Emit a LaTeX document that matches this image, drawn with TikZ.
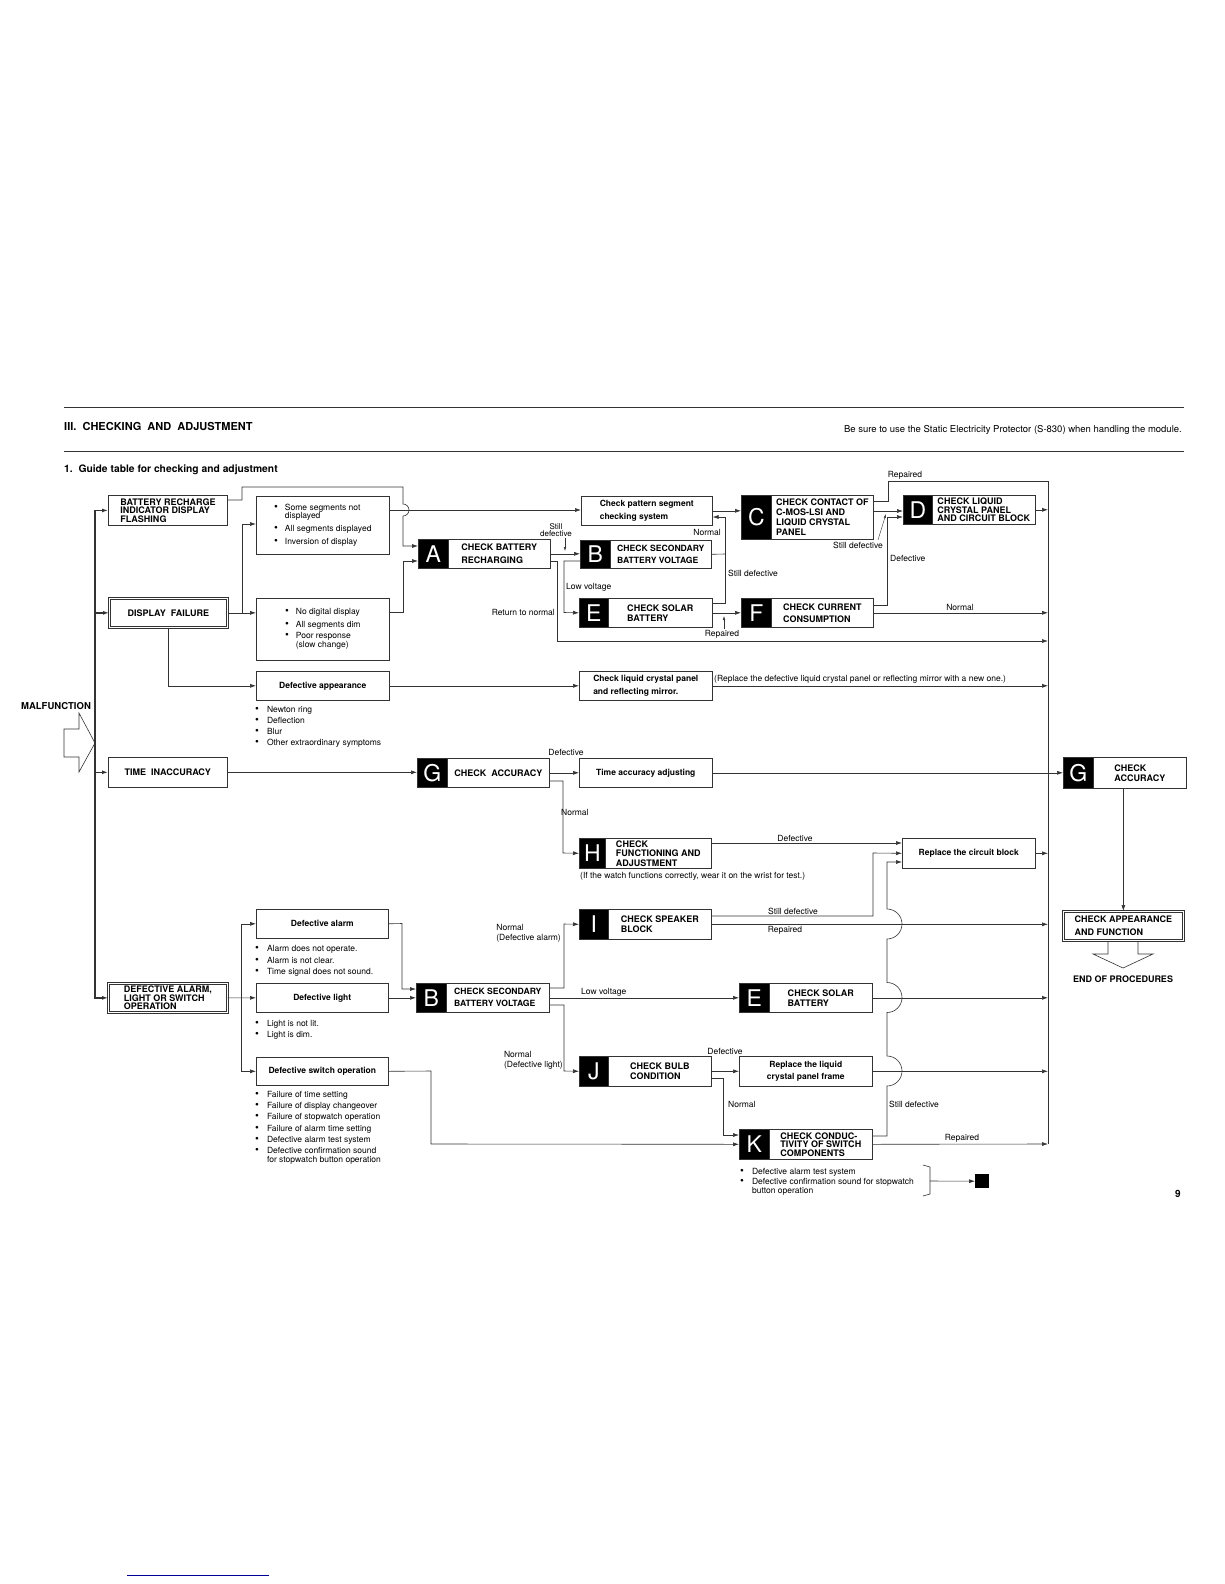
\documentclass[tikz,border=0pt]{standalone}
\usepackage{fontspec}
\setmainfont{TeX Gyre Heros}
\usetikzlibrary{arrows.meta,positioning}
\newcommand{\listdot}{{\fontsize{11}{8.5}\selectfont\textbullet}}

\begin{document}
\begin{tikzpicture}[x=1pt,y=-1pt,
    line/.style={draw=black!80, line width=0.6pt},
    arr/.style={line, -{Latex[length=6pt,width=4pt]}},
    sarr/.style={line, line width=0.4pt, -{Latex[length=4pt,width=2.5pt]}},
    bus/.style={arr, line width=1.3pt},
    box/.style={rectangle, line, fill=white, anchor=north west, inner sep=0pt, align=center},
    dbox/.style={box, double=white, double distance=1pt, line width=0.7pt},
    tag/.style={rectangle, fill=black, draw=black!80, line width=0.6pt, anchor=north west, inner sep=0pt, text=white, font=\fontsize{23}{23}\selectfont},
    hdg/.style={font=\bfseries\fontsize{9}{10}\selectfont},
    txt/.style={font=\bfseries\fontsize{8.5}{13}\selectfont},
    lst/.style={font=\fontsize{8.5}{8.5}\selectfont},
    lbl/.style={inner sep=0pt, font=\fontsize{8.5}{10}\selectfont},
    blt/.style={inner sep=0pt, anchor=north west, align=left, font=\fontsize{8.5}{8.5}\selectfont}
  ]
  \fill[white] (0,0) rectangle (1224,1584);
  \useasboundingbox (0,0) rectangle (1224,1584);

  % --- heading ---
  \draw[line, line width=0.8pt] (64,407) -- (1184,407);
  \draw[line, line width=0.8pt] (64,451) -- (1184,451);
  \node[anchor=west, inner sep=0pt, font=\bfseries\fontsize{11}{13}\selectfont] (title) at (64,426) {III.\ \ CHECKING\ \ AND\ \ ADJUSTMENT};
  \node[anchor=east, inner sep=0pt, font=\fontsize{9.5}{11}\selectfont] (note) at (1182,430) {Be sure to use the Static Electricity Protector (S-830) when handling the module.};
  \node[anchor=west, inner sep=0pt, font=\bfseries\fontsize{10.3}{12}\selectfont] (sub) at (64,470) {1.\ \ Guide table for checking and adjustment};

  % --- malfunction ---
  \node[inner sep=0pt, font=\bfseries\fontsize{9.5}{11}\selectfont] (malf) at (56,706) {MALFUNCTION};
  \draw[line, fill=white] (64,729) -- (79,729) -- (79,713) -- (95,743) -- (79,772) -- (79,757) -- (64,757) -- cycle;
  \coordinate (mf) at (95,743);

  % --- symptoms ---
  \node[box, line width=0.9pt, minimum width=119, minimum height=30, align=left, font=\bfseries\fontsize{9}{8.5}\selectfont] (br) at (108,495) {BATTERY RECHARGE\\INDICATOR DISPLAY\\FLASHING};
  \node[dbox, hdg, minimum width=118, minimum height=29] (df) at (109,598) {DISPLAY\ \ FAILURE};
  \node[box, hdg, minimum width=119, minimum height=30] (ti) at (108,757) {TIME\ \ INACCURACY};
  \node[dbox, minimum width=119, minimum height=29, align=left, font=\bfseries\fontsize{9}{8.5}\selectfont] (da) at (108,983) {DEFECTIVE ALARM,\\LIGHT OR SWITCH\\OPERATION};

  \node[box, lst, minimum width=133, minimum height=58] (s1) at (256,496) {\begin{tabular}{@{}l@{\hspace{7pt}}l@{}}\listdot&Some segments not\\&displayed\\[4pt]\listdot&All segments displayed\\[4pt]\listdot&Inversion of display\end{tabular}};
  \node[box, lst, minimum width=133, minimum height=62] (s2) at (256,598) {\begin{tabular}{@{}l@{\hspace{7pt}}l@{}}\listdot&No digital display\\[4pt]\listdot&All segments dim\\[2.5pt]\listdot&Poor response\\&(slow change)\end{tabular}};
  \node[box, txt, minimum width=133, minimum height=29] (dap) at (256,671) {Defective appearance};
  \node[blt] (dapl) at (255,706) {\begin{tabular}{@{}l@{\hspace{8pt}}l@{}}\listdot&Newton ring\\[2.2pt]\listdot&Deflection\\[2.2pt]\listdot&Blur\\[2.2pt]\listdot&Other extraordinary symptoms\end{tabular}};

  \node[box, txt, minimum width=132, minimum height=29] (dal) at (256,909) {Defective alarm};
  \node[blt] (dall) at (255,945) {\begin{tabular}{@{}l@{\hspace{8pt}}l@{}}\listdot&Alarm does not operate.\\[3pt]\listdot&Alarm is not clear.\\[3pt]\listdot&Time signal does not sound.\end{tabular}};
  \node[box, txt, minimum width=132, minimum height=29] (dli) at (256,983) {Defective light};
  \node[blt] (dlil) at (255,1020) {\begin{tabular}{@{}l@{\hspace{8pt}}l@{}}\listdot&Light is not lit.\\[2.5pt]\listdot&Light is dim.\end{tabular}};
  \node[box, txt, minimum width=132, minimum height=28] (dsw) at (256,1057) {Defective switch operation};
  \node[blt] (dswl) at (255,1091) {\begin{tabular}{@{}l@{\hspace{8pt}}l@{}}\listdot&Failure of time setting\\[2.5pt]\listdot&Failure of display changeover\\[2.5pt]\listdot&Failure of stopwatch operation\\[2.5pt]\listdot&Failure of alarm time setting\\[2.5pt]\listdot&Defective alarm test system\\[2.5pt]\listdot&Defective confirmation sound\\&for stopwatch button operation\end{tabular}};

  % --- checks ---
  \node[tag, minimum width=30, minimum height=29] (atag) at (418,539) {A};
  \node[box, minimum width=102, minimum height=29, align=left, font=\bfseries\fontsize{9}{12.5}\selectfont] (a) at (448,539) {CHECK BATTERY\\RECHARGING};
  \node[box, txt, minimum width=131, minimum height=29, align=left] (cp) at (581,496) {Check pattern segment\\checking system};
  \node[tag, minimum width=30, minimum height=28] (btag) at (580,540) {B};
  \node[box, minimum width=101, minimum height=28, align=left, font=\bfseries\fontsize{8.6}{12.5}\selectfont] (b) at (610,540) {CHECK SECONDARY\\BATTERY VOLTAGE};
  \node[tag, minimum width=29, minimum height=29] (etag) at (579,598) {E};
  \node[box, hdg, minimum width=104, minimum height=29, align=left] (e) at (608,598) {CHECK SOLAR\\BATTERY};
  \node[tag, minimum width=30, minimum height=44] (ctag) at (741,495) {C};
  \node[box, hdg, minimum width=102, minimum height=44, align=left] (c) at (771,495) {CHECK CONTACT OF\\C-MOS-LSI AND\\LIQUID CRYSTAL\\PANEL};
  \node[tag, minimum width=30, minimum height=29] (ftag) at (741,598) {F};
  \node[box, minimum width=102, minimum height=29, align=left, font=\bfseries\fontsize{9}{12}\selectfont] (f) at (771,598) {CHECK CURRENT\\CONSUMPTION};
  \node[tag, minimum width=29, minimum height=29] (dtag) at (903,495) {D};
  \node[box, minimum width=103, minimum height=29, align=left, font=\bfseries\fontsize{9}{8.5}\selectfont] (d) at (932,495) {CHECK LIQUID\\CRYSTAL PANEL\\AND CIRCUIT BLOCK};

  \node[box, txt, minimum width=133, minimum height=29, align=left] (clcp) at (579,671) {Check liquid crystal panel\\and reflecting mirror.};

  \node[tag, minimum width=30, minimum height=29] (g1tag) at (417,758) {G};
  \node[box, hdg, minimum width=102, minimum height=29] (g1) at (447,758) {CHECK\ \ ACCURACY};
  \node[box, txt, minimum width=133, minimum height=29] (taa) at (579,758) {Time accuracy adjusting};
  \node[tag, minimum width=30, minimum height=31] (g2tag) at (1063,757) {G};
  \node[box, hdg, minimum width=93, minimum height=31, align=left] (g2) at (1093,757) {CHECK\\ACCURACY};

  \node[tag, minimum width=26, minimum height=30] (htag) at (579,838) {H};
  \node[box, minimum width=106, minimum height=30, align=left, font=\bfseries\fontsize{9}{9.5}\selectfont] (h) at (605,838) {CHECK\\FUNCTIONING AND\\ADJUSTMENT};
  \node[box, txt, minimum width=133, minimum height=30] (rcb) at (902,838) {Replace the circuit block};

  \node[tag, minimum width=29, minimum height=30] (itag) at (579,909) {I};
  \node[box, hdg, minimum width=103, minimum height=30, align=left] (i) at (608,909) {CHECK SPEAKER\\BLOCK};
  \node[tag, minimum width=30, minimum height=29] (b2tag) at (416,983) {B};
  \node[box, minimum width=103, minimum height=29, align=left, font=\bfseries\fontsize{8.6}{12}\selectfont] (b2) at (446,983) {CHECK SECONDARY\\BATTERY VOLTAGE};
  \node[tag, minimum width=30, minimum height=29] (e2tag) at (739,983) {E};
  \node[box, hdg, minimum width=103, minimum height=29, align=left] (e2) at (769,983) {CHECK SOLAR\\BATTERY};
  \node[tag, minimum width=29, minimum height=30] (jtag) at (579,1056) {J};
  \node[box, hdg, minimum width=103, minimum height=30, align=left] (j) at (608,1056) {CHECK BULB\\CONDITION};
  \node[box, minimum width=133, minimum height=30, font=\bfseries\fontsize{8.5}{11.5}\selectfont] (rlcp) at (739,1056) {Replace the liquid\\crystal panel frame};
  \node[tag, minimum width=30, minimum height=30] (ktag) at (739,1129) {K};
  \node[box, minimum width=103, minimum height=30, align=left, font=\bfseries\fontsize{9}{8.5}\selectfont] (k) at (769,1129) {CHECK CONDUC-\\TIVITY OF SWITCH\\COMPONENTS};
  \node[blt] (kl) at (740,1168) {\begin{tabular}{@{}l@{\hspace{8pt}}l@{}}\listdot&Defective alarm test system\\[1.5pt]\listdot&Defective confirmation sound for stopwatch\\&button operation\end{tabular}};

  \node[dbox, minimum width=120, minimum height=29, align=left, font=\bfseries\fontsize{9}{12.5}\selectfont] (caf) at (1063,911) {CHECK APPEARANCE\\AND FUNCTION};
  \node[inner sep=0pt, font=\bfseries\fontsize{9}{11}\selectfont] (endp) at (1123,979) {END OF PROCEDURES};
  \node[inner sep=0pt, font=\bfseries\fontsize{10}{12}\selectfont] (pg) at (1178,1194) {9};
  \node[fill=black, minimum size=14, inner sep=0pt, anchor=north west] (endsq) at (975,1174) {};

  % --- bus lines ---
  \coordinate (rbT) at (1048,481);
  \coordinate (rbB) at (1048,1144);
  \draw[bus] (mf) |- (br.west);
  \draw[bus] (mf) |- (df.west);
  \draw[bus] (mf) |- (ti.west);
  \draw[bus] (mf) |- (da.west);

  % --- display branch ---
  \coordinate (j1) at (242,612.5);
  \draw[arr] (br.east |- 0,500) -- (242,500) -- (242,487) -- (403,487) -- (403,504) arc[start angle=-90, end angle=90, radius=6] -- (403,546) -- (atag.west |- 0,546);
  \draw[arr] (df.east) -- (s2.west |- df.east);
  \draw[arr] (j1) -- (242,524) -- (s1.west |- 0,524);
  \draw[arr] (s1.east |- 0,510) -- (cp.west |- 0,510);
  \draw[arr] (s2.east |- 0,612) -- (403,612) -- (403,561) -- (atag.west |- 0,561);
  \draw[arr] (a.east) -- (btag.west |- a.east);
  \draw[arr] (a.east |- 0,561) -- (557,561) -- (557,641) -- (rbT |- 0,641);
  \draw[arr] (btag.west |- 0,561) -- (564,561) -- (564,612.5) -- (etag.west);
  \draw[line] (b.east) -- (725,554);
  \draw[arr] (e.east |- 0,603) -- (725,603) -- (725,517) -- (cp.east |- 0,517);
  \draw[arr] (e.east) -- (ftag.west);
  \draw[arr] (cp.east) -- (ctag.west |- cp.east);
  \draw[line] (c.east |- 0,501) -- (888,501) -- (888,481) -- (rbT) -- (rbB);
  \draw[arr] (c.east |- 0,511) -- (dtag.west |- 0,511);
  \draw[arr] (f.east |- 0,605) -- (887,605) -- (887,517) -- (dtag.west |- 0,517);
  \draw[arr] (d.east) -- (rbT |- d.east);
  \draw[arr] (f.east) -- (rbT |- f.east);
  \draw[arr] (df.south) |- (dap.west);
  \draw[arr] (dap.east) -- (clcp.west);
  \draw[arr] (clcp.east) -- (rbT |- clcp.east);

  % --- time branch ---
  \draw[arr] (ti.east) -- (g1tag.west |- ti.east);
  \draw[arr] (g1.east) -- (taa.west);
  \draw[arr] (g1.east |- 0,781) -- (563,781) -- (563,853) -- (htag.west);
  \draw[arr] (taa.east) -- (g2tag.west);
  \draw[arr] (g2.south -| caf.north) -- (caf.north);
  \draw[arr] (h.east |- 0,843) -- (rcb.west |- 0,843);
  \draw[arr] (rcb.east) -- (rbT |- rcb.east);

  % --- alarm branch ---
  \coordinate (j2) at (241,997.5);
  \draw[arr] (da.east) -- (dli.west);
  \draw[arr] (j2) |- (dal.west);
  \draw[arr] (j2) |- (dsw.west);
  \draw[arr] (dal.east) -- (402,923.5) -- (402,989) -- (b2tag.west |- 0,989);
  \draw[arr] (dli.east) -- (b2tag.west);
  \draw[arr] (dsw.east) -- (431,1071) -- (431,1144) -- (ktag.west);
  \draw[arr] (b2.east |- 0,988) -- (564,988) -- (564,924) -- (itag.west);
  \draw[arr] (b2.east) -- (e2tag.west);
  \draw[arr] (b2.east |- 0,1005) -- (564,1005) -- (564,1071) -- (jtag.west);
  \draw[arr] (i.east |- 0,916) -- (873,916) -- (873,853) -- (rcb.west);
  \draw[arr] (i.east) -- (rbT |- i.east);
  \draw[arr] (e2.east) -- (rbT |- e2.east);
  \draw[arr] (j.east) -- (rlcp.west);
  \draw[arr] (j.east |- 0,1078) -- (723,1078) -- (723,1135) -- (ktag.west |- 0,1135);
  \draw[arr] (rlcp.east) -- (rbT |- rlcp.east);
  \draw[arr] (k.east |- 0,1136) -- (887,1136) -- (887,1086) arc[start angle=90, end angle=-90, radius=15] -- (887,1012.5) arc[start angle=90, end angle=-90, radius=15] -- (887,939) arc[start angle=90, end angle=-90, radius=15] -- (887,862) -- (rcb.west |- 0,862);
  \draw[arr] (k.east) -- (rbB);

  % --- end ---
  \draw[line] (1108,941) -- (1108,954) -- (1093,954) -- (1123,968) -- (1153,954) -- (1138,954) -- (1138,941);
  \coordinate (brk) at (930,1181);
  \draw[line] (923,1165) -- (930,1167) -- (930,1194) -- (923,1196);
  \draw[arr] (brk) -- (endsq.west);

  % --- labels ---
  \node[lbl] (l1) at (905,475) {Repaired};
  \node[lbl, align=center, font=\fontsize{8}{7.5}\selectfont] (l2) at (556,530) {Still\\defective};
  \draw[sarr] (565,538) -- (565,551);
  \node[lbl, anchor=east] (l3) at (721,532) {Normal};
  \node[lbl, anchor=east] (l4) at (555,612) {Return to normal};
  \node[lbl, anchor=west] (l5) at (566,587) {Low voltage};
  \node[lbl, anchor=west] (l6) at (728,573) {Still defective};
  \node[lbl] (l7) at (722,634) {Repaired};
  \draw[sarr] (724,629) -- (724,616);
  \node[lbl] (l8) at (858,545) {Still defective};
  \draw[sarr] (878,540) -- (886,514);
  \node[lbl, anchor=west] (l9) at (890,558) {Defective};
  \node[lbl] (l10) at (960,607) {Normal};
  \node[lbl, anchor=west] (l11) at (714,679) {(Replace the defective liquid crystal panel or reflecting mirror with a new one.)};
  \node[lbl] (l12) at (566,752) {Defective};
  \node[lbl, anchor=west] (l13) at (561,812) {Normal};
  \node[lbl, anchor=west] (l14) at (580,876) {(If the watch functions correctly, wear it on the wrist for test.)};
  \node[lbl] (l15) at (795,838) {Defective};
  \node[lbl] (l16) at (793,911) {Still defective};
  \node[lbl] (l17) at (785,930) {Repaired};
  \node[lbl, anchor=east, align=left] (l18) at (561,933) {Normal\\(Defective alarm)};
  \node[lbl, anchor=west] (l19) at (581,992) {Low voltage};
  \node[lbl, anchor=east, align=left] (l20) at (563,1060) {Normal\\(Defective light)};
  \node[lbl] (l21) at (725,1051) {Defective};
  \node[lbl, anchor=west] (l22) at (728,1104) {Normal};
  \node[lbl, anchor=west] (l23) at (889,1104) {Still defective};
  \node[lbl] (l24) at (962,1138) {Repaired};

  \draw[blue!60!black, line width=0.7pt] (127,1575) -- (269,1575);
\end{tikzpicture}
\end{document}
